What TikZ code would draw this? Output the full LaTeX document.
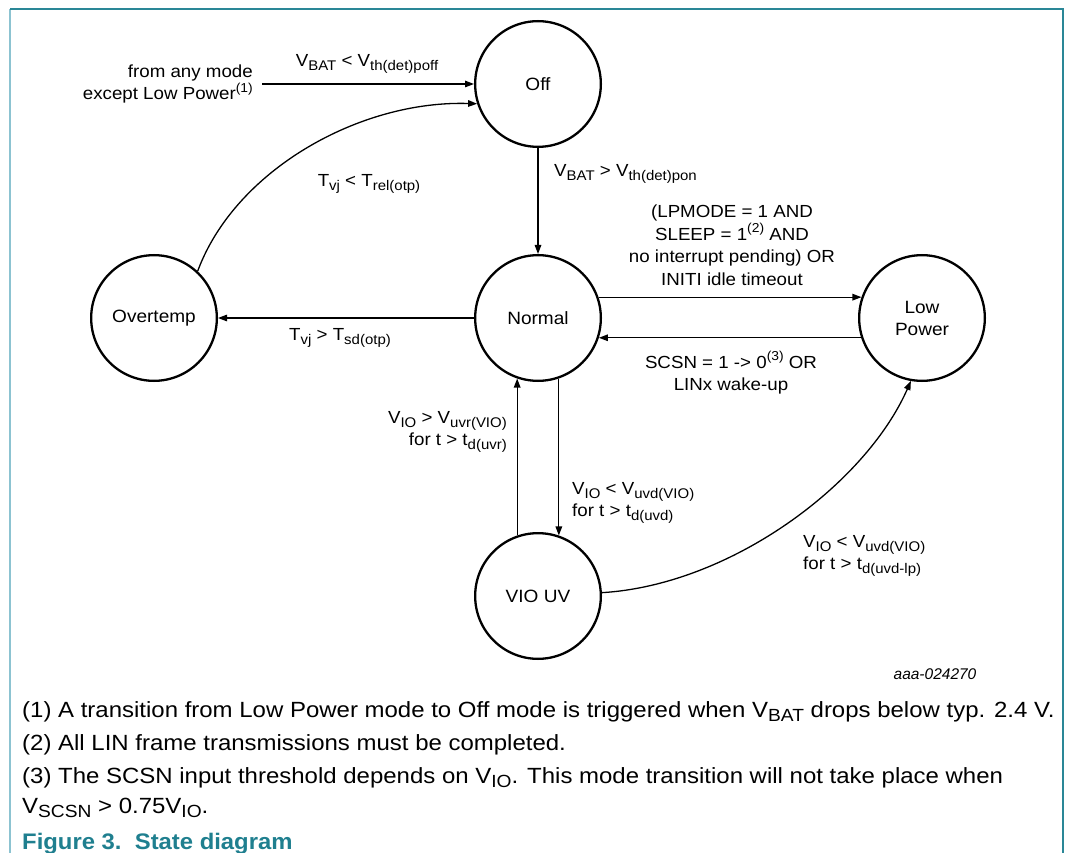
\documentclass[tikz,border=0pt]{standalone}
\usepackage{fontspec}
\usepackage{graphicx}
\setmainfont{Liberation Sans}
\newfontfamily\lblfont{Liberation Sans}[FakeStretch=1.07]
\newfontfamily\notefont{Liberation Sans}[FakeStretch=1.09]
\newfontfamily\capfont{Liberation Sans}[FakeStretch=1.06]
\newcommand{\sbx}[1]{\raisebox{-0.22em}{\scalebox{0.8}{#1}}}
\newcommand{\spx}[1]{\raisebox{0.42em}{\scalebox{0.74}{#1}}}
\usetikzlibrary{arrows.meta}
\definecolor{frameteal}{HTML}{2A8797}
\definecolor{framelight}{HTML}{8CC3D1}
\definecolor{captionteal}{HTML}{1F7F8F}
\begin{document}
\begin{tikzpicture}[x=1pt,y=-1pt,
  state/.style={circle,draw,line width=2.3pt,minimum size=125.7pt,inner sep=0pt,
    font=\lblfont\fontsize{17.8}{22}\selectfont,align=center},
  lbl/.style={inner sep=0pt,font=\lblfont\fontsize{17.5}{22.5}\selectfont},
  note/.style={inner sep=0pt,anchor=base west,font=\notefont\fontsize{22}{26}\selectfont},
  arr/.style={line width=1.3pt,-{Triangle[length=9pt,width=6.5pt]}}]
\useasboundingbox (0,0) rectangle (1066,853);
% frame
\draw[framelight,line width=1.5pt] (10,9) -- (10,853);
\draw[frameteal,line width=1.5pt] (10,9) -- (1063,9) -- (1063,853);
% states
\node[state] (off) at (538,84) {Off};
\node[state] (normal) at (538,318) {Normal};
\node[state] (overtemp) at (154,318) {Overtemp};
\node[state] (lp) at (922,318) {Low\\Power};
\node[state] (viouv) at (538,596) {VIO UV};
% connectors
\coordinate (anyin) at (262,84);
\draw[arr] (anyin) -- (off);
\draw[arr] (off) -- (normal);
\draw[arr] (overtemp.47) .. controls (235,170) and (360,100) .. (off.198);
\draw[arr] (normal.19) -- (lp.161);
\draw[arr] (lp.-162) -- (normal.-18);
\draw[arr] (normal) -- (overtemp);
\draw[arr] (viouv.109) -- (normal.-109);
\draw[arr] (normal.-71) -- (viouv.71);
\draw[arr] (viouv.3) .. controls (730,585) and (865,485) .. (lp.260);
% labels
\node[lbl] (lpoff) at (367,64) {V\sbx{BAT} < V\sbx{th(det)poff}};
\node[lbl,anchor=east,align=right] (lany) at (253,84) {from any mode\\except Low Power\spx{(1)}};
\node[lbl] (lrel) at (369,184) {T\sbx{vj} < T\sbx{rel(otp)}};
\node[lbl,anchor=west] (lpon) at (554,174) {V\sbx{BAT} > V\sbx{th(det)pon}};
\node[lbl,align=center] (llp) at (732,245) {(LPMODE = 1 AND\\SLEEP = 1\spx{(2)} AND\\no interrupt pending) OR\\INITI idle timeout};
\node[lbl,align=center] (lscsn) at (731,373) {SCSN = 1 -> 0\spx{(3)} OR\\LINx wake-up};
\node[lbl] (lsd) at (340,338) {T\sbx{vj} > T\sbx{sd(otp)}};
\node[lbl,anchor=east,align=right] (luvr) at (507,432) {V\sbx{IO} > V\sbx{uvr(VIO)}\\for t > t\sbx{d(uvr)}};
\node[lbl,anchor=west,align=left] (luvd) at (572,503) {V\sbx{IO} < V\sbx{uvd(VIO)}\\for t > t\sbx{d(uvd)}};
\node[lbl,anchor=west,align=left] (luvdlp) at (803,556) {V\sbx{IO} < V\sbx{uvd(VIO)}\\for t > t\sbx{d(uvd-lp)}};
\node[inner sep=0pt,font=\fontsize{15.5}{18}\selectfont\itshape] (code) at (935,674) {aaa-024270};
% footnotes
\node[note] (n1) at (22,717) {(1) A transition from Low Power mode to Off mode is triggered when V\sbx{BAT} drops below typ. 2.4 V.};
\node[note] (n2) at (22,750) {(2) All LIN frame transmissions must be completed.};
\node[note] (n3) at (22,783) {(3) The SCSN input threshold depends on V\sbx{IO}. This mode transition will not take place when};
\node[note] (n4) at (22,813) {V\sbx{SCSN} > 0.75V\sbx{IO}.};
\node[note,font=\capfont\fontsize{22.5}{26}\selectfont\bfseries,text=captionteal] (cap) at (22,849) {Figure 3.\ \ State diagram};
\end{tikzpicture}
\end{document}
